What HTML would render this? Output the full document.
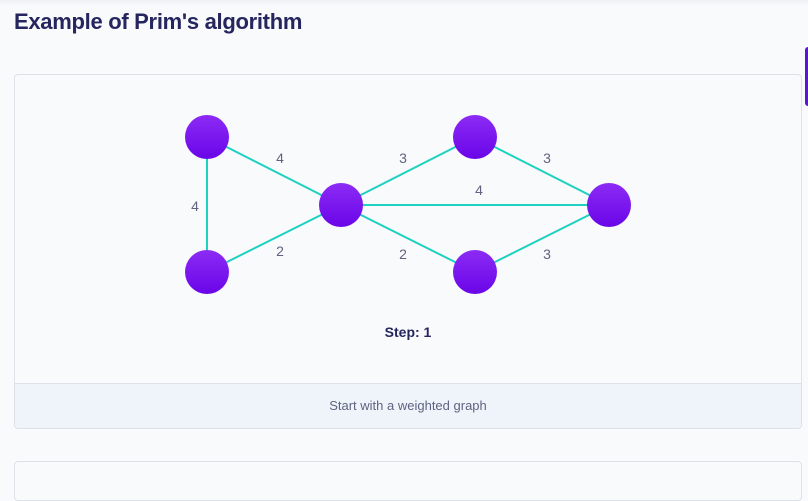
<!DOCTYPE html>
<html><head><meta charset="utf-8"><style>
*{margin:0;padding:0;box-sizing:border-box}
body{width:808px;height:484px;overflow:hidden;background:#f9fafc;font-family:"Liberation Sans",sans-serif;position:relative}
.top{position:absolute;left:0;top:0;width:808px;height:6px;background:linear-gradient(#eef0f4,#f9fafc)}
h1{position:absolute;left:14px;top:9px;font-size:22px;font-weight:bold;color:#25265e;letter-spacing:-0.3px}
.card{position:absolute;left:14px;top:74px;width:788px;height:355px;border:1px solid #dde1e8;border-radius:4px;background:#f9fafc;overflow:hidden}
.foot{position:absolute;left:0;top:308px;width:100%;height:46px;background:#eff4fb;border-top:1px solid #dde1e8;text-align:center;line-height:44px;font-size:13px;color:#5f6380}
.card2{position:absolute;left:14px;top:461px;width:788px;height:40px;border:1px solid #dde1e8;border-radius:4px;background:#f9fafc}
.tab{position:absolute;left:805px;top:47px;width:4px;height:59px;background:#5b17c9;border-radius:3px 0 0 3px}
</style></head><body>
<div class="top"></div>
<h1>Example of Prim's algorithm</h1>
<div class="tab"></div>
<div class="card"><div class="foot">Start with a weighted graph</div></div>
<div class="card2"></div>
<svg width="808" height="484" style="position:absolute;left:0;top:0">
<defs><linearGradient id="g" x1="0" y1="0" x2="0" y2="1"><stop offset="0" stop-color="#8c2bf5"/><stop offset="1" stop-color="#6a05e8"/></linearGradient></defs>
<g stroke="#1fd1c1" stroke-width="2">
<line x1="207" y1="137" x2="207" y2="272"/>
<line x1="207" y1="137" x2="341" y2="205"/>
<line x1="207" y1="272" x2="341" y2="205"/>
<line x1="341" y1="205" x2="475" y2="137"/>
<line x1="341" y1="205" x2="609" y2="205"/>
<line x1="341" y1="205" x2="475" y2="272"/>
<line x1="475" y1="137" x2="609" y2="205"/>
<line x1="475" y1="272" x2="609" y2="205"/>
</g>
<g fill="url(#g)">
<circle cx="207" cy="137" r="22"/><circle cx="207" cy="272" r="22"/>
<circle cx="341" cy="205" r="22"/><circle cx="475" cy="137" r="22"/>
<circle cx="475" cy="272" r="22"/><circle cx="609" cy="205" r="22"/>
</g>
<g font-family="Liberation Sans" font-size="14" fill="#5f6380" text-anchor="middle">
<text x="280" y="163">4</text><text x="195" y="211">4</text><text x="280" y="256">2</text>
<text x="403" y="163">3</text><text x="479" y="195">4</text><text x="403" y="259">2</text>
<text x="547" y="163">3</text><text x="547" y="259">3</text>
</g>
<text x="408" y="337" font-family="Liberation Sans" font-size="14" font-weight="bold" fill="#25265e" text-anchor="middle">Step: 1</text>
</svg>
</body></html>
